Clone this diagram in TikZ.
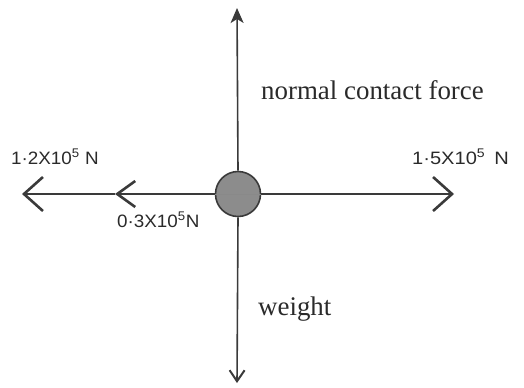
\documentclass[tikz,border=0pt]{standalone}
\usepackage{fontspec}
\setmainfont{Liberation Serif}
\newfontfamily\handfont{Liberation Sans}
\usetikzlibrary{arrows.meta}
\definecolor{inkc}{HTML}{3A3A3A}
\definecolor{ballc}{HTML}{8C8C8C}
\definecolor{textc}{HTML}{2A2A2A}
\tikzset{
  forceline/.style={draw=inkc, line width=1.6bp},
  bigbarb/.style={-{Straight Barb[length=19bp,width=34bp,line width=2.6bp]}},
  midbarb/.style={-{Straight Barb[length=18bp,width=26bp,line width=2.6bp]}},
  toptip/.style={-{Stealth[length=15bp,width=13bp,inset=4bp]}},
  vtip/.style={-{Straight Barb[length=11bp,width=15bp,line width=2bp]}},
  printed/.style={font=\fontsize{27}{32}\selectfont, text=textc, inner sep=0pt, anchor=base west},
  handlabel/.style={font=\handfont\fontsize{18}{20}\selectfont, text=textc, inner sep=0pt, anchor=base west},
  ball/.style={circle, draw=inkc, fill=ballc, line width=1.6bp, minimum size=45bp, inner sep=0pt}
}
\begin{document}
\begin{tikzpicture}[x=1bp,y=-1bp]
\useasboundingbox (0,0) rectangle (524,387);
\node[ball] (obj) at (238,194) {};
\coordinate (top) at (237,8);
\coordinate (bottom) at (237,383);
\coordinate (lefttip) at (22,194);
\coordinate (midtip) at (115,194);
\coordinate (righttip) at (454,194);
\draw[forceline, toptip] (obj.north) -- (top);
\draw[forceline, vtip] (obj.south) -- (bottom);
\draw[forceline, midbarb] (obj.west) -- (midtip);
\draw[forceline, bigbarb] (midtip) -- (lefttip);
\draw[forceline, bigbarb] (obj.east) -- (righttip);
\draw[draw=inkc!60, line width=1bp] (obj.west) -- (obj.east);
\node[printed] (nlabel) at (261,99) {normal contact force};
\node[printed] (wlabel) at (258,315) {weight};
\node[handlabel] (l1) at (11,164) {\scalebox{1.05}[1]{1·2X10\textsuperscript{5} N}};
\node[handlabel] (l2) at (117,227) {\scalebox{1.05}[1]{0·3X10\textsuperscript{5}N}};
\node[handlabel] (l3) at (412,164) {\scalebox{1.12}[1]{1·5X10\textsuperscript{5}\hspace{8bp}N}};
\end{tikzpicture}
\end{document}
